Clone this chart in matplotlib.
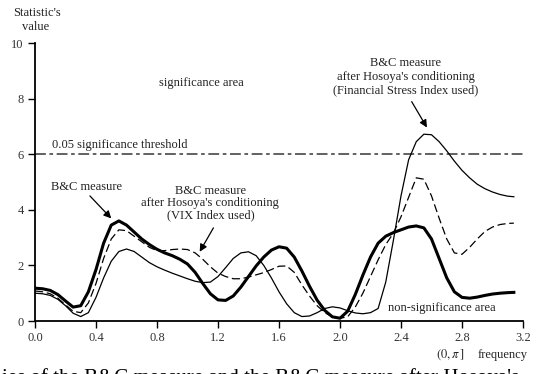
import numpy as np
import matplotlib
matplotlib.use('Agg')
import matplotlib.pyplot as plt

# Frequency grid (0, pi]
freq = [0.00, 0.05, 0.10, 0.15, 0.20, 0.25, 0.30, 0.35, 0.40, 0.45,
        0.50, 0.55, 0.60, 0.65, 0.70, 0.75, 0.80, 0.85, 0.90, 0.95,
        1.00, 1.05, 1.10, 1.15, 1.20, 1.25, 1.30, 1.35, 1.40, 1.45,
        1.50, 1.55, 1.60, 1.65, 1.70, 1.75, 1.80, 1.85, 1.90, 1.95,
        2.00, 2.05, 2.10, 2.15, 2.20, 2.25, 2.30, 2.35, 2.40, 2.45,
        2.50, 2.55, 2.60, 2.65, 2.70, 2.75, 2.80, 2.85, 2.90, 2.95,
        3.00, 3.05, 3.10, 3.14]

# B&C measure (thick line)
bc = [1.18, 1.16, 1.10, 0.95, 0.72, 0.50, 0.55, 1.05, 1.85, 2.80,
      3.45, 3.60, 3.45, 3.20, 2.95, 2.75, 2.58, 2.45, 2.35, 2.22,
      2.05, 1.75, 1.35, 0.98, 0.76, 0.74, 0.90, 1.22, 1.60, 1.98,
      2.30, 2.55, 2.67, 2.62, 2.30, 1.80, 1.25, 0.75, 0.38, 0.15,
      0.10, 0.35, 0.95, 1.65, 2.30, 2.80, 3.05, 3.18, 3.28, 3.38,
      3.42, 3.35, 2.95, 2.25, 1.55, 1.05, 0.85, 0.82, 0.86, 0.92,
      0.97, 1.00, 1.02, 1.03]

# B&C measure after Hosoya's conditioning, VIX index (dashed)
bc_vix = [1.08, 1.05, 0.98, 0.82, 0.58, 0.35, 0.30, 0.65, 1.35, 2.25,
          2.95, 3.28, 3.25, 3.05, 2.85, 2.65, 2.53, 2.53, 2.57, 2.59,
          2.57, 2.45, 2.22, 1.95, 1.72, 1.60, 1.52, 1.52, 1.58, 1.66,
          1.74, 1.85, 1.97, 1.98, 1.75, 1.30, 0.90, 0.55, 0.30, 0.15,
          0.10, 0.15, 0.50, 1.00, 1.60, 2.20, 2.75, 3.16, 3.75, 4.45,
          5.15, 5.10, 4.50, 3.70, 2.95, 2.45, 2.40, 2.65, 2.95, 3.22,
          3.38, 3.47, 3.51, 3.52]

# B&C measure after Hosoya's conditioning, Financial Stress Index (thin)
bc_fsi = [1.00, 0.98, 0.92, 0.78, 0.55, 0.28, 0.16, 0.30, 0.85, 1.55,
          2.15, 2.50, 2.59, 2.50, 2.30, 2.10, 1.95, 1.83, 1.72, 1.62,
          1.52, 1.43, 1.38, 1.40, 1.60, 1.92, 2.25, 2.45, 2.49, 2.35,
          2.00, 1.55, 1.05, 0.62, 0.30, 0.16, 0.18, 0.30, 0.45, 0.51,
          0.47, 0.37, 0.29, 0.26, 0.30, 0.45, 1.40, 2.90, 4.50, 5.80,
          6.45, 6.72, 6.70, 6.45, 6.12, 5.75, 5.42, 5.15, 4.92, 4.76,
          4.64, 4.55, 4.49, 4.47]

threshold = 6.0
x_ticks = [0.0, 0.4, 0.8, 1.2, 1.6, 2.0, 2.4, 2.8, 3.2]
y_ticks = [0, 2, 4, 6, 8, 10]

plt.rcParams['font.family'] = ['Liberation Serif', 'DejaVu Serif']
plt.rcParams['mathtext.fontset'] = 'stix'

fig = plt.figure(figsize=(5.39, 3.74), dpi=100)
ax = fig.add_axes([35 / 539, 53 / 374, 488 / 539, 278 / 374])

# significance threshold
ax.axhline(threshold, color='#555555', lw=1.3, dashes=(6, 2, 2, 2))

ax.plot(freq, bc_fsi, color='black', lw=0.9)
ax.plot(freq, bc_vix, color='black', lw=0.9, dashes=(6.5, 3))
ax.plot(freq, bc, color='black', lw=2.2)

ax.set_xlim(0, 3.2)
ax.set_ylim(0, 10)
ax.set_xticks(x_ticks)
ax.set_xticklabels([f'{t:.1f}' for t in x_ticks])
ax.set_yticks(y_ticks)
for s in ['top', 'right']:
    ax.spines[s].set_visible(False)
for s in ['left', 'bottom']:
    ax.spines[s].set_linewidth(1.3)
ax.tick_params(direction='out', length=5, width=1.0, labelsize=9, pad=3,
               colors='black', labelcolor='#333333')

# labels and annotations
tk = dict(fontsize=9, color='#222222')
fig.text(37 / 539, 1 - 13 / 374, "Statistic's", ha='center', va='center', **tk)
fig.text(36 / 539, 1 - 27 / 374, 'value', ha='center', va='center', **tk)
ax.text(1.09, 8.56, 'significance area', ha='center', va='center', **tk)
ax.text(0.11, 6.12, '0.05 significance threshold', ha='left', va='bottom', **tk)
ax.text(2.67, 0.46, 'non-significance area', ha='center', va='center', **tk)
fig.text(450 / 539, 1 - 355 / 374, r'$(0,\pi\,]$', ha='center', va='center', **tk)
fig.text(478 / 539, 1 - 355 / 374, 'frequency', ha='left', va='center', **tk)

arrow = dict(arrowstyle='-|>', color='black', lw=0.9, mutation_scale=11,
             shrinkA=0, shrinkB=0)
ax.text(0.34, 4.83, 'B&C measure', ha='center', va='center', **tk)
ax.annotate('', xy=(0.50, 3.69), xytext=(0.36, 4.50), arrowprops=arrow)

ax.text(1.15, 4.24, "B&C measure\nafter Hosoya's conditioning\n(VIX Index used)",
        ha='center', va='center', linespacing=1.05, **tk)
ax.annotate('', xy=(1.08, 2.49), xytext=(1.17, 3.35), arrowprops=arrow)

ax.text(2.43, 8.78, "B&C measure\nafter Hosoya's conditioning\n(Financial Stress Index used)",
        ha='center', va='center', linespacing=1.2, **tk)
ax.annotate('', xy=(2.57, 6.96), xytext=(2.47, 7.89), arrowprops=arrow)

# caption line cut off at the bottom of the picture
fig.text(0.003, -0.024, "ies of the B&C measure and the B&C measure after Hosoya's",
         ha='left', va='baseline', fontsize=15, color='black')

fig.savefig('out.png', dpi=100)
